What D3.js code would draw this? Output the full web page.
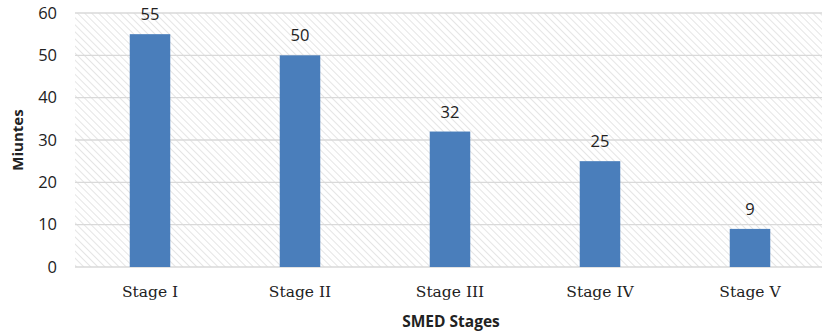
<!DOCTYPE html>
<html>
<head>
<meta charset="utf-8">
<script src="https://cdn.jsdelivr.net/npm/d3@7"></script>
<style>
  body { margin: 0; background: #fff; }
</style>
</head>
<body>
<div id="chart"></div>
<script>
var stages = ["Stage I", "Stage II", "Stage III", "Stage IV", "Stage V"];
var minutes = [55, 50, 32, 25, 9];
var yTicks = [0, 10, 20, 30, 40, 50, 60];

var W = 822, H = 333;
var margin = {top: 13, right: 0, bottom: 66, left: 75};

var svg = d3.select("#chart")
  .append("svg")
    .attr("width", W)
    .attr("height", H);

// hatch fill for plot area
var defs = svg.append("defs");
var pat = defs.append("pattern")
    .attr("id", "hatch")
    .attr("patternUnits", "userSpaceOnUse")
    .attr("width", 5)
    .attr("height", 5)
    .attr("patternTransform", "rotate(-45)");
pat.append("line")
    .attr("x1", 0).attr("y1", 0)
    .attr("x2", 0).attr("y2", 5)
    .attr("stroke", "#d4d4d4")
    .attr("stroke-width", 1.2);

var x = d3.scaleBand()
    .domain(stages)
    .range([margin.left, W - margin.right + 3])
    .paddingInner(0.73)
    .paddingOuter(0.365);

var y = d3.scaleLinear()
    .domain([0, 60])
    .range([H - margin.bottom, margin.top]);

svg.append("rect")
    .attr("x", margin.left)
    .attr("y", margin.top)
    .attr("width", W - margin.right - margin.left)
    .attr("height", y(0) - y(60))
    .attr("fill", "url(#hatch)");

// gridlines
svg.append("g")
  .selectAll("line")
  .data(yTicks)
  .enter().append("line")
    .attr("x1", margin.left)
    .attr("x2", W - margin.right)
    .attr("y1", function(d) { return y(d); })
    .attr("y2", function(d) { return y(d); })
    .attr("stroke", "#d9d9d9")
    .attr("stroke-width", 1.3);

// y axis labels
var yAxis = svg.append("g")
    .attr("transform", "translate(" + (margin.left - 18) + ",0)")
    .call(d3.axisLeft(y).tickValues(yTicks).tickSize(0).tickPadding(0));
yAxis.select(".domain").remove();
yAxis.selectAll("text")
    .attr("font-family", "'Open Sans', 'Liberation Sans', sans-serif")
    .attr("font-size", 16.5)
    .attr("fill", "#222");

// x axis labels
var xAxis = svg.append("g")
    .attr("transform", "translate(0," + (y(0) + 19) + ")")
    .call(d3.axisBottom(x).tickSize(0).tickPadding(0));
xAxis.select(".domain").remove();
xAxis.selectAll("text")
    .attr("font-family", "'DejaVu Serif', 'Liberation Serif', serif")
    .attr("font-size", 15.5)
    .attr("fill", "#222");

// bars
svg.append("g")
  .selectAll("rect")
  .data(minutes)
  .enter().append("rect")
    .attr("x", function(d, i) { return x(stages[i]); })
    .attr("y", function(d) { return y(d); })
    .attr("width", x.bandwidth())
    .attr("height", function(d) { return y(0) - y(d); })
    .attr("fill", "#4a7ebb");

// value labels
svg.append("g")
  .selectAll("text")
  .data(minutes)
  .enter().append("text")
    .attr("x", function(d, i) { return x(stages[i]) + x.bandwidth() / 2; })
    .attr("y", function(d) { return y(d) - 14; })
    .attr("text-anchor", "middle")
    .attr("font-family", "'Open Sans', 'Liberation Sans', sans-serif")
    .attr("font-size", 16.5)
    .attr("fill", "#222")
    .text(function(d) { return d; });

// axis titles
svg.append("text")
    .attr("transform", "translate(23," + ((y(0) + y(60)) / 2) + ") rotate(-90)")
    .attr("text-anchor", "middle")
    .attr("font-family", "'Open Sans', 'Liberation Sans', sans-serif")
    .attr("font-weight", "bold")
    .attr("font-size", 15)
    .attr("fill", "#222")
    .text("Miuntes");

svg.append("text")
    .attr("x", 451)
    .attr("y", 327)
    .attr("text-anchor", "middle")
    .attr("font-family", "'Open Sans', 'Liberation Sans', sans-serif")
    .attr("font-weight", "bold")
    .attr("font-size", 15.5)
    .attr("fill", "#222")
    .text("SMED Stages");
</script>
</body>
</html>
